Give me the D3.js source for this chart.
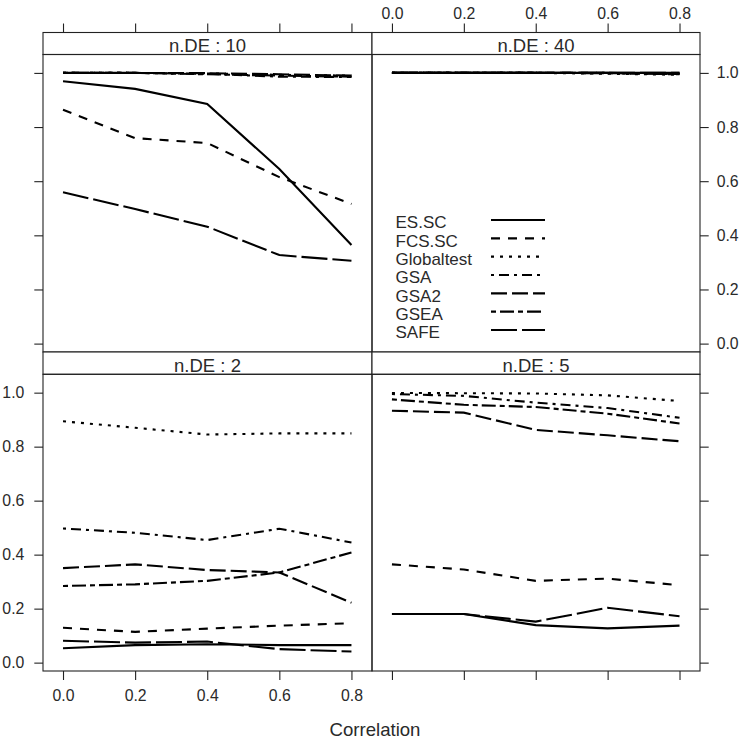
<!DOCTYPE html>
<html><head><meta charset="utf-8">
<script src="https://cdn.jsdelivr.net/npm/d3@7"></script>
<style>
html,body{margin:0;padding:0;background:#fff;}
text{font-family:"Liberation Sans",Arial,sans-serif;fill:#2a2a2a;}
</style></head>
<body>
<svg id="chart" width="742" height="740"></svg>
<script>
// ---- data ----
const correlation = [0, 0.2, 0.4, 0.6, 0.8];
const methods = ["ES.SC", "FCS.SC", "Globaltest", "GSA", "GSA2", "GSEA", "SAFE"];
const xTicks = [0, 0.2, 0.4, 0.6, 0.8];
const yTicks = [0, 0.2, 0.4, 0.6, 0.8, 1.0];
const xLabel = "Correlation";

// values per method (order as in methods)
const nDE10 = [
  [0.969, 0.941, 0.885, 0.645, 0.364],
  [0.864, 0.759, 0.741, 0.615, 0.516],
  [1.000, 1.000, 0.998, 0.993, 0.990],
  [1.000, 1.000, 0.997, 0.986, 0.985],
  [1.000, 1.000, 0.999, 0.995, 0.990],
  [1.000, 1.000, 0.995, 0.990, 0.986],
  [0.559, 0.497, 0.432, 0.327, 0.306]
];
const nDE40 = [
  [1.000, 1.000, 1.000, 1.000, 1.000],
  [1.000, 1.000, 1.000, 1.000, 0.998],
  [1.000, 1.000, 1.000, 0.997, 0.993],
  [1.000, 1.000, 1.000, 0.999, 0.995],
  [1.000, 1.000, 1.000, 1.000, 0.997],
  [1.000, 1.000, 1.000, 0.999, 0.996],
  [1.000, 1.000, 1.000, 1.000, 1.000]
];
const nDE2 = [
  [0.053, 0.065, 0.068, 0.065, 0.065],
  [0.129, 0.114, 0.126, 0.137, 0.146],
  [0.894, 0.870, 0.845, 0.849, 0.849],
  [0.497, 0.481, 0.454, 0.496, 0.445],
  [0.350, 0.364, 0.343, 0.334, 0.222],
  [0.284, 0.290, 0.303, 0.334, 0.408],
  [0.081, 0.074, 0.078, 0.050, 0.041]
];
const nDE5 = [
  [0.180, 0.180, 0.139, 0.127, 0.137],
  [0.364, 0.345, 0.303, 0.311, 0.287],
  [0.999, 0.998, 0.997, 0.990, 0.969],
  [0.995, 0.988, 0.963, 0.943, 0.907],
  [0.933, 0.926, 0.862, 0.842, 0.820],
  [0.975, 0.955, 0.947, 0.922, 0.886],
  [0.180, 0.180, 0.152, 0.203, 0.172]
];
const panelTitles = ["n.DE : 10", "n.DE : 40", "n.DE : 2", "n.DE : 5"];
const panelData = [nDE10, nDE40, nDE2, nDE5];

// ---- styles ----
const dashes = [null, "9,8", "3,6", "3,5,10,5", "16,5", "5,4,14,4", "26,5"];

const svg = d3.select("#chart");
const colX = [43, 372, 700];
const rowsY = [{strip: 32.5, top: 54.5, bottom: 352}, {strip: 352, top: 374.3, bottom: 671}];
const xDomain = [-0.0555, 0.857];
const yDomain = [-0.031, 1.068];
const fmt = d3.format(".1f");
const ink = "#222";

const positions = [
  {c: 0, r: 0}, {c: 1, r: 0}, {c: 0, r: 1}, {c: 1, r: 1}
];

positions.forEach((p, i) => {
  const x0 = colX[p.c], x1 = colX[p.c + 1];
  const row = rowsY[p.r];
  const x = d3.scaleLinear().domain(xDomain).range([x0, x1]);
  const y = d3.scaleLinear().domain(yDomain).range([row.bottom, row.top]);
  const g = svg.append("g");

  // strip
  g.append("rect").attr("x", x0).attr("y", row.strip).attr("width", x1 - x0)
    .attr("height", row.top - row.strip).attr("fill", "#fff")
    .attr("stroke", ink).attr("stroke-width", 1.1);
  g.append("text").attr("x", (x0 + x1) / 2).attr("y", row.top - 2.4)
    .attr("text-anchor", "middle").attr("font-size", 18.5).text(panelTitles[i]);

  // lines
  const line = d3.line().x((d, k) => x(correlation[k])).y(d => y(d));
  panelData[i].forEach((vals, m) => {
    g.append("path").datum(vals).attr("d", line)
      .attr("fill", "none").attr("stroke", "#000").attr("stroke-width", 2.1)
      .attr("stroke-dasharray", dashes[m]);
  });

  // panel border
  g.append("rect").attr("x", x0).attr("y", row.top).attr("width", x1 - x0)
    .attr("height", row.bottom - row.top).attr("fill", "none")
    .attr("stroke", ink).attr("stroke-width", 1.1);

  // axes
  if (p.c === 0) {
    const ax = d3.axisLeft(y).tickValues(yTicks).tickSize(8.7).tickPadding(10)
      .tickFormat(p.r === 1 ? fmt : "");
    const a = svg.append("g").attr("transform", `translate(${x0},0)`).call(ax);
    styleAxis(a);
  } else {
    const ax = d3.axisRight(y).tickValues(yTicks).tickSize(8.7).tickPadding(8)
      .tickFormat(p.r === 0 ? fmt : "");
    const a = svg.append("g").attr("transform", `translate(${x1},0)`).call(ax);
    styleAxis(a);
  }
  if (p.r === 0) {
    const ax = d3.axisTop(x).tickValues(xTicks).tickSize(9).tickPadding(5)
      .tickFormat(p.c === 1 ? fmt : "");
    const a = svg.append("g").attr("transform", `translate(0,${row.strip})`).call(ax);
    styleAxis(a);
  } else {
    const ax = d3.axisBottom(x).tickValues(xTicks).tickSize(9).tickPadding(10)
      .tickFormat(p.c === 0 ? fmt : "");
    const a = svg.append("g").attr("transform", `translate(0,${row.bottom})`).call(ax);
    styleAxis(a);
  }
});

function styleAxis(a) {
  a.select(".domain").remove();
  a.selectAll(".tick line").attr("stroke", ink).attr("stroke-width", 1.1);
  a.selectAll(".tick text").attr("font-size", 15.8).attr("fill", "#2a2a2a")
    .style("font-family", "'Liberation Sans', Arial, sans-serif");
}

// x label
svg.append("text").attr("x", 375).attr("y", 736).attr("text-anchor", "middle")
  .attr("font-size", 18.6).text(xLabel);

// legend (inside n.DE : 40 panel)
const leg = svg.append("g");
const legRowY = d3.scaleLinear().domain([0, methods.length - 1]).range([220, 330]);
methods.forEach((mName, m) => {
  const yy = legRowY(m);
  leg.append("text").attr("x", 395.5).attr("y", yy + 8.3).attr("font-size", 17).text(mName);
  leg.append("line").attr("x1", 491).attr("x2", 545).attr("y1", yy).attr("y2", yy)
    .attr("stroke", "#000").attr("stroke-width", 2.1).attr("stroke-dasharray", dashes[m]);
});
</script>
</body></html>
